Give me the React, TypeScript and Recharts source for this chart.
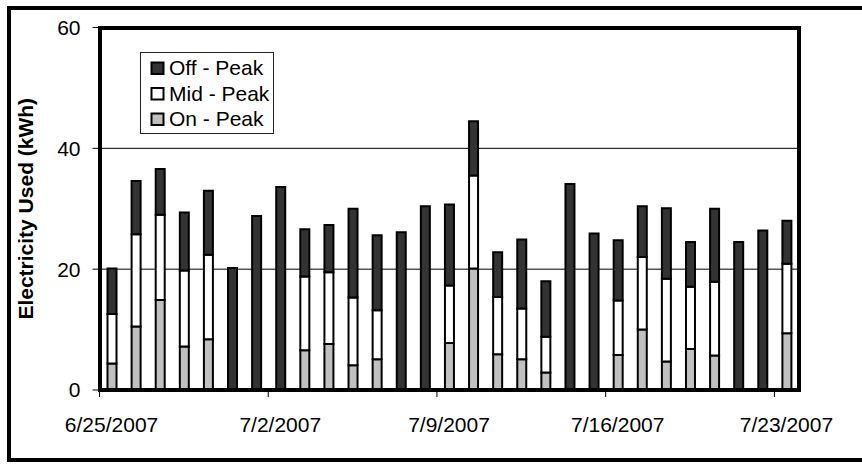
import React from 'react';
import {
  BarChart,
  Bar,
  XAxis,
  YAxis,
  CartesianGrid,
  Legend,
} from 'recharts';

// Daily electricity use split by tariff period (kWh)
const dates = [
  '6/25/2007', '6/26/2007', '6/27/2007', '6/28/2007', '6/29/2007', '6/30/2007', '7/1/2007',
  '7/2/2007', '7/3/2007', '7/4/2007', '7/5/2007', '7/6/2007', '7/7/2007', '7/8/2007',
  '7/9/2007', '7/10/2007', '7/11/2007', '7/12/2007', '7/13/2007', '7/14/2007', '7/15/2007',
  '7/16/2007', '7/17/2007', '7/18/2007', '7/19/2007', '7/20/2007', '7/21/2007', '7/22/2007',
  '7/23/2007',
];

const onPeak = [
  4.4, 10.5, 14.9, 7.2, 8.4, 0, 0,
  0, 6.6, 7.6, 4.1, 5.1, 0, 0,
  7.8, 20.1, 5.9, 5.1, 2.9, 0, 0,
  5.8, 10.0, 4.7, 6.8, 5.7, 0, 0,
  9.4,
];

const midPeak = [
  8.2, 15.3, 14.1, 12.6, 14.0, 0, 0,
  0, 12.2, 11.9, 11.2, 8.1, 0, 0,
  9.5, 15.4, 9.5, 8.4, 5.9, 0, 0,
  9.0, 12.0, 13.7, 10.3, 12.2, 0, 0,
  11.5,
];

const offPeak = [
  7.5, 8.8, 7.6, 9.6, 10.6, 20.2, 28.8,
  33.6, 7.8, 7.8, 14.7, 12.4, 26.1, 30.4,
  13.4, 9.0, 7.4, 11.4, 9.2, 34.1, 25.9,
  10.0, 8.4, 11.7, 7.4, 12.1, 24.5, 26.4,
  7.1,
];

const yTicks = [0, 20, 40, 60];
const legendOrder = ['Off - Peak', 'Mid - Peak', 'On - Peak'];

const rows = dates.map((date, i) => ({
  date,
  on: onPeak[i],
  mid: midPeak[i],
  off: offPeak[i],
}));

const FONT = '"Liberation Sans", Arial, sans-serif';
const CHART_W = 862;
const CHART_H = 464;
const Y_AXIS_W = 99.5;
const X_AXIS_H = 74;
const MARGIN = { top: 27.5, right: 63.5, left: 0, bottom: 0 };
const PLOT_W = CHART_W - Y_AXIS_W - MARGIN.right;
const PLOT_H = CHART_H - MARGIN.top - X_AXIS_H;
const HALF_BAND = PLOT_W / dates.length / 2;
const FRAME_W = 4;

// Date label centred under the bar, tick mark at the left edge of its category
const DateTick = (props: any) => {
  const { x, y, payload } = props;
  const edge = x - HALF_BAND;
  return (
    <g>
      <line x1={edge} x2={edge} y1={y} y2={y + 7} stroke="#000" strokeWidth={1} />
      <text
        x={x}
        y={y + 42}
        textAnchor="middle"
        fontSize={21}
        fontFamily={FONT}
        fill="#000"
      >
        {payload.value}
      </text>
    </g>
  );
};

const LegendBox = (props: any) => {
  const items = [...(props.payload || [])].sort(
    (a: any, b: any) => legendOrder.indexOf(a.value) - legendOrder.indexOf(b.value)
  );
  return (
    <svg width={134} height={82} style={{ display: 'block' }}>
      <rect x={0.5} y={0.5} width={133} height={81} fill="#fff" stroke="#222" strokeWidth={1} />
      {items.map((it: any, i: number) => (
        <g key={it.value}>
          <rect
            x={11.5}
            y={10.5 + i * 25.5}
            width={12}
            height={11.5}
            fill={it.color}
            stroke="#000"
            strokeWidth={2}
          />
          <text x={29} y={23 + i * 25.5} fontSize={21} fontFamily={FONT} fill="#000">
            {it.value}
          </text>
        </g>
      ))}
    </svg>
  );
};

export default function App() {
  return (
    <div
      style={{
        position: 'absolute',
        left: 0,
        top: 0,
        width: CHART_W,
        height: CHART_H,
        overflow: 'hidden',
        background: '#fff',
      }}
    >
      {/* outer chart frame */}
      <div
        style={{
          position: 'absolute',
          left: 7,
          top: 6,
          width: CHART_W,
          height: 456,
          border: '4px solid #000',
          boxSizing: 'border-box',
        }}
      />
      <div style={{ position: 'absolute', left: 0, top: 0 }}>
        <BarChart
          width={CHART_W}
          height={CHART_H}
          data={rows}
          margin={MARGIN}
          barSize={9}
          style={{ fontFamily: FONT }}
        >
          <CartesianGrid horizontal vertical={false} stroke="#000" strokeWidth={1} />
          <XAxis
            dataKey="date"
            interval={6}
            height={X_AXIS_H}
            axisLine={false}
            tickLine={false}
            tickSize={0}
            tickMargin={0}
            tick={<DateTick />}
          />
          <YAxis
            width={Y_AXIS_W}
            domain={[0, 60]}
            ticks={yTicks}
            interval={0}
            axisLine={false}
            tickLine={{ stroke: '#000', strokeWidth: 1 }}
            tickSize={7}
            tickMargin={12}
            tick={{ fontSize: 21, fill: '#000', fontFamily: FONT }}
            label={(labelProps: any) => {
              const vb = labelProps.viewBox || {};
              const cy = (vb.y ?? MARGIN.top) + (vb.height ?? PLOT_H) / 2;
              const cx = 33;
              return (
                <text
                  x={cx}
                  y={cy}
                  textAnchor="middle"
                  fontSize={21}
                  fontWeight="bold"
                  fontFamily={FONT}
                  fill="#000"
                  transform={`rotate(-90, ${cx}, ${cy})`}
                >
                  Electricity Used (kWh)
                </text>
              );
            }}
          />
          <Legend
            layout="horizontal"
            verticalAlign="middle"
            align="center"
            content={<LegendBox />}
            wrapperStyle={{ left: 140, top: 52, width: 134, height: 82 }}
          />
          <Bar dataKey="on" name="On - Peak" stackId="use" fill="#c0c0c0" stroke="#000" strokeWidth={2} isAnimationActive={false} />
          <Bar dataKey="mid" name="Mid - Peak" stackId="use" fill="#ffffff" stroke="#000" strokeWidth={2} isAnimationActive={false} />
          <Bar dataKey="off" name="Off - Peak" stackId="use" fill="#333333" stroke="#000" strokeWidth={2} isAnimationActive={false} />
        </BarChart>
      </div>
      {/* plot-area frame, centred on the plot edges */}
      <div
        style={{
          position: 'absolute',
          left: Y_AXIS_W - FRAME_W / 2,
          top: MARGIN.top - FRAME_W / 2,
          width: PLOT_W + FRAME_W,
          height: PLOT_H + FRAME_W,
          border: `${FRAME_W}px solid #000`,
          boxSizing: 'border-box',
          pointerEvents: 'none',
        }}
      />
    </div>
  );
}
